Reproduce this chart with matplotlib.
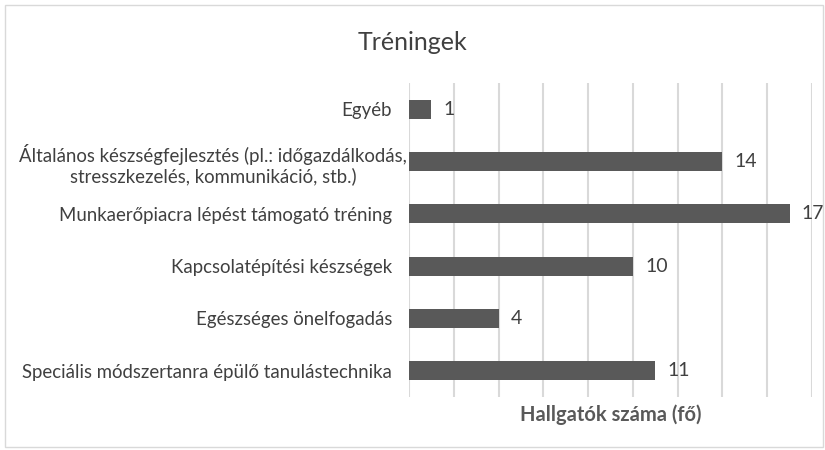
import matplotlib.pyplot as plt
import matplotlib.patches as mpatches

categories = [
    'Speciális módszertanra épülő tanulástechnika',
    'Egészséges önelfogadás',
    'Kapcsolatépítési készségek',
    'Munkaerőpiacra lépést támogató tréning',
    'Általános készségfejlesztés (pl.: időgazdálkodás,\nstresszkezelés, kommunikáció, stb.)',
    'Egyéb',
]
values = [11, 4, 10, 17, 14, 1]
x_ticks = list(range(0, 19, 2))

plt.rcParams['font.family'] = ['Lato', 'DejaVu Sans']
text_col = '#404040'

fig = plt.figure(figsize=(8.25, 4.5), dpi=100)
ax = fig.add_axes([409 / 825, 1 - 397 / 450, (812 - 409) / 825, (397 - 83) / 450])

ypos = list(range(len(categories)))
ax.barh(ypos, values, height=0.36, color='#595959', zorder=3)
for y, v in zip(ypos, values):
    ax.text(v + 0.55, y, str(v), va='center', ha='left', fontsize=14, color=text_col)

ax.set_xlim(0, 18)
ax.set_ylim(-0.5, len(categories) - 0.5)
ax.set_xticks(x_ticks)
ax.set_xticklabels([])
ax.tick_params(axis='x', length=0)
ax.tick_params(axis='y', length=0, pad=12.2)
ax.set_yticks(ypos)
ax.set_yticklabels(categories, fontsize=13.4, color=text_col, multialignment='center')
# the wrapped label sits centred, like Excel draws it
long_lbl = ax.get_yticklabels()[4]
long_lbl.set_horizontalalignment('center')
long_lbl.set_x((213 + 17 - 409) / 403)
ax.grid(axis='x', color='#d9d9d9', lw=1.5, zorder=0)
for s in ax.spines.values():
    s.set_visible(False)

ax.set_xlabel('Hallgatók száma (fő)', fontsize=14.5, fontweight='bold', color='#595959', labelpad=2)
fig.suptitle('Tréningek', y=0.93, fontsize=18, color=text_col)

fig.patches.append(mpatches.Rectangle((5 / 825, 3 / 450), 818 / 825, 442 / 450, transform=fig.transFigure,
                                      fill=False, edgecolor='#d9d9d9', lw=1))

fig.savefig('out.png', dpi=100)
